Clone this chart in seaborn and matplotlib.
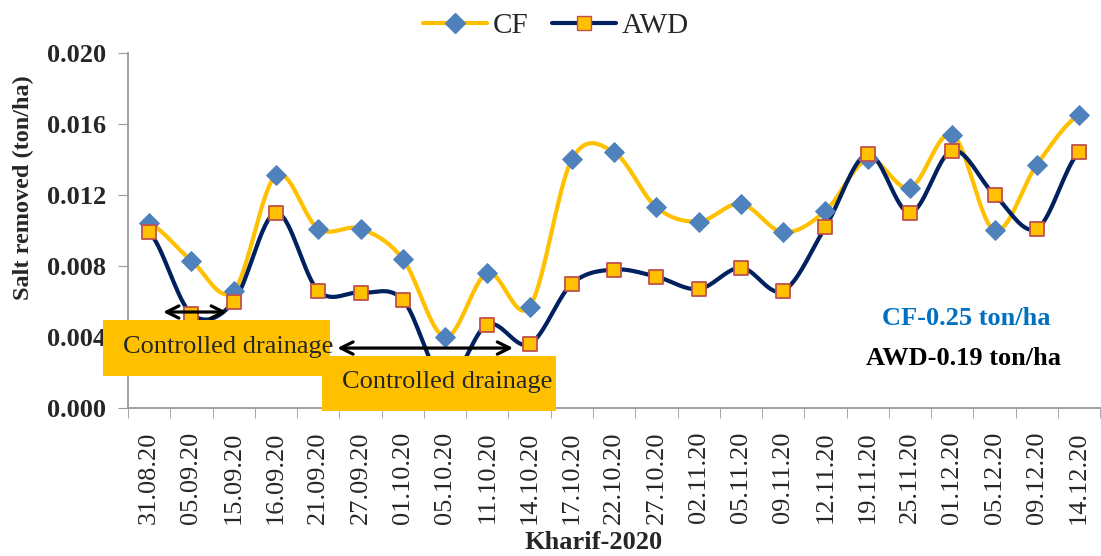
import numpy as np
import pandas as pd
import matplotlib.pyplot as plt
from matplotlib.patches import Rectangle
import seaborn as sns

dates = ["31.08.20", "05.09.20", "15.09.20", "16.09.20", "21.09.20", "27.09.20",
         "01.10.20", "05.10.20", "11.10.20", "14.10.20", "17.10.20", "22.10.20",
         "27.10.20", "02.11.20", "05.11.20", "09.11.20", "12.11.20", "19.11.20",
         "25.11.20", "01.12.20", "05.12.20", "09.12.20", "14.12.20"]
cf = [0.0104, 0.0083, 0.0066, 0.0131, 0.0101, 0.0101, 0.0084, 0.0040, 0.0076,
      0.0057, 0.0140, 0.0144, 0.0113, 0.0105, 0.0115, 0.0099, 0.0111, 0.0140,
      0.0124, 0.0154, 0.0100, 0.0137, 0.0165]
awd = [0.0099, 0.0053, 0.0060, 0.0110, 0.0066, 0.0065, 0.0061, 0.0015, 0.0047,
       0.0036, 0.0070, 0.0078, 0.0074, 0.0067, 0.0079, 0.0066, 0.0102, 0.0143,
       0.0110, 0.0145, 0.0120, 0.0101, 0.0144]

CF_LINE, CF_MARK = "#FFC000", "#4F81BD"
AWD_LINE, AWD_FACE, AWD_EDGE = "#002060", "#FFC000", "#C0504D"
BOX = "#FFC000"


def smooth(y, n=20):
    # Excel-style smoothed line (Catmull-Rom through the points)
    y = np.asarray(y, float)
    p = np.concatenate([[y[0]], y, [y[-1]]])
    xs, ys = [], []
    for i in range(len(y) - 1):
        t = np.linspace(0, 1, n, endpoint=False)
        p0, p1, p2, p3 = p[i], p[i + 1], p[i + 2], p[i + 3]
        ys.append(0.5 * (2 * p1 + (-p0 + p2) * t + (2 * p0 - 5 * p1 + 4 * p2 - p3) * t ** 2
                         + (-p0 + 3 * p1 - 3 * p2 + p3) * t ** 3))
        xs.append(i + t)
    xs.append([len(y) - 1])
    ys.append([y[-1]])
    return np.concatenate(xs), np.concatenate(ys)


sns.set_style("white")
plt.rcParams["font.family"] = ["Liberation Serif", "DejaVu Serif"]

df = pd.DataFrame({"idx": np.arange(len(dates)), "CF": cf, "AWD": awd})

fig = plt.figure(figsize=(11.01, 5.56), dpi=100)
ax = fig.add_axes([0.1163, 0.266, 0.883, 0.639])

sx, sy = smooth(cf)
ax.plot(sx, sy, color=CF_LINE, lw=3, zorder=2)
sx, sy = smooth(awd)
ax.plot(sx, sy, color=AWD_LINE, lw=3, zorder=2)
sns.scatterplot(data=df, x="idx", y="CF", marker="D", s=100, color=CF_MARK,
                edgecolor=CF_MARK, ax=ax, zorder=3)
sns.scatterplot(data=df, x="idx", y="AWD", marker="s", s=110, color=AWD_FACE,
                edgecolor=AWD_EDGE, linewidth=1.3, ax=ax, zorder=3)

ax.set_xlim(-0.5, len(dates) - 0.5)
ax.set_ylim(0, 0.020)
yt = np.arange(0, 0.0201, 0.004)
ax.set_yticks(yt)
ax.set_yticklabels([f"{v:.3f}" for v in yt], fontsize=19, fontweight="bold")
ax.set_xticks(np.arange(len(dates)))
ax.set_xticklabels(dates, rotation=90, fontsize=19)
ax.set_xticks(np.arange(-0.5, len(dates), 1), minor=True)
ax.tick_params(axis="x", which="major", length=0, pad=17)
ax.tick_params(axis="x", which="minor", length=7, color="#999999", direction="out", bottom=True)
ax.tick_params(axis="y", length=7, color="#999999", direction="out", left=True, pad=9)
for s in ["top", "right"]:
    ax.spines[s].set_visible(False)
for s in ["left", "bottom"]:
    ax.spines[s].set_color("#999999")
    ax.spines[s].set_linewidth(1.3)

ax.set_ylabel("Salt removed (ton/ha)", fontsize=17.5, fontweight="bold")
ax.yaxis.set_label_coords(-0.097, 0.62)
ax.set_xlabel("Kharif-2020", fontsize=19, fontweight="bold")
ax.xaxis.set_label_coords(0.479, -0.345)

# controlled drainage boxes and arrows
ax.add_patch(Rectangle((4.09, -0.00017), 5.54, 0.0031, fc=BOX, ec="none",
                       clip_on=False, zorder=4))
ax.add_patch(Rectangle((-1.09, 0.0018), 5.37, 0.00316, fc=BOX, ec="none",
                       clip_on=False, zorder=4))
ax.text(1.87, 0.00344, "Controlled drainage", fontsize=19, ha="center", va="center", zorder=5)
ax.text(7.04, 0.00146, "Controlled drainage", fontsize=19, ha="center", va="center", zorder=5)
ax.annotate("", xy=(0.33, 0.00541), xytext=(1.84, 0.00541),
            arrowprops=dict(arrowstyle="<->", lw=2.3, color="black", mutation_scale=22,
                            shrinkA=0, shrinkB=0), zorder=6)
ax.annotate("", xy=(4.45, 0.00338), xytext=(8.61, 0.00338),
            arrowprops=dict(arrowstyle="<->", lw=2.3, color="black", mutation_scale=22,
                            shrinkA=0, shrinkB=0), zorder=6)

ax.text(19.33, 0.00507, "CF-0.25 ton/ha", fontsize=19, fontweight="bold",
        color="#0070C0", ha="center", va="center")
ax.text(19.26, 0.00282, "AWD-0.19 ton/ha", fontsize=19, fontweight="bold",
        color="black", ha="center", va="center")

handles = [
    plt.Line2D([], [], color=CF_LINE, lw=3, marker="D", ms=10, mfc=CF_MARK, mec=CF_MARK),
    plt.Line2D([], [], color=AWD_LINE, lw=3, marker="s", ms=10, mfc=AWD_FACE, mec=AWD_EDGE),
]
fig.legend(handles, ["CF", "AWD"], loc="upper center", bbox_to_anchor=(0.505, 1.025),
           ncol=2, frameon=False, fontsize=21, handlelength=2.2, handletextpad=0.2,
           columnspacing=0.8)

fig.savefig("out.png", dpi=100)
